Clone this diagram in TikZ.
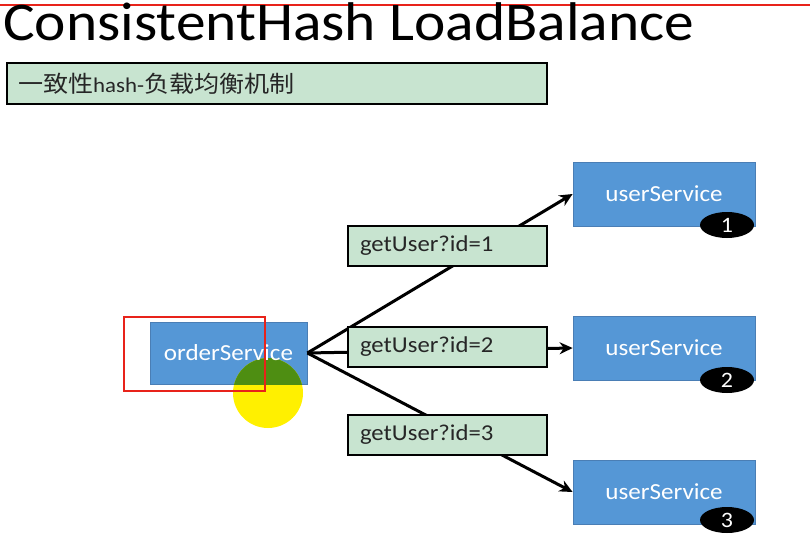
\documentclass[tikz,border=0pt]{standalone}
\usepackage{fontspec}
\setmainfont[FakeStretch=1.09]{Carlito}
\newfontfamily\cjk[FakeStretch=1.09]{Noto Sans CJK SC}
\usetikzlibrary{shapes.geometric,arrows.meta}
\definecolor{boxblue}{HTML}{5597D6}
\definecolor{boxblueedge}{HTML}{4A7EB5}
\definecolor{lblgreen}{HTML}{C8E4D0}
\definecolor{hiyellow}{HTML}{FFF000}
\definecolor{higreen}{HTML}{4E8E12}
\definecolor{markred}{HTML}{E8231A}
\tikzset{
  svc/.style={draw=boxblueedge, line width=0.8pt, fill=boxblue, text=white,
    minimum width=182pt, minimum height=64pt, inner sep=0pt,
    font=\fontsize{23}{26}\selectfont},
  lbl/.style={draw=black, line width=2.2pt, fill=lblgreen, text=black!85,
    text width=175pt, align=left, inner xsep=12pt, inner ysep=0pt,
    minimum height=40pt, font=\fontsize{22.7}{25}\selectfont},
  badge/.style={ellipse, fill=black, text=white, minimum width=54pt,
    minimum height=26pt, inner sep=0pt, font=\fontsize{22}{24}\selectfont},
  conn/.style={line width=3pt, -{Stealth[length=13pt,width=12pt]}},
}
\begin{document}
\begin{tikzpicture}[x=1pt,y=-1pt]
\useasboundingbox[fill=white] (0,0) rectangle (810,556);
% top red line
\coordinate (tl) at (0,5);
\coordinate (tr) at (810,5);
\draw[markred, line width=1.6pt] (tl) -- (tr);
% title
\node[anchor=base west, inner sep=0pt, font=\fontsize{54.5}{58}\selectfont] (title) at (3,41) {ConsistentHash LoadBalance};
% subtitle
\node[draw=black, line width=2.2pt, fill=lblgreen, minimum width=540pt, minimum height=41pt,
  text width=518pt, inner xsep=10pt, inner ysep=0pt, align=left,
  font=\fontsize{21}{23}\selectfont, text=black!85] (sub) at (277,83.5)
  {{\cjk\fontsize{23}{25}\selectfont 一致性}hash-{\cjk\fontsize{23}{25}\selectfont 负载均衡机制}};
% order service
\node[svc, minimum width=157pt, minimum height=62pt] (order) at (228.5,353) {};
% user services
\node[svc] (u1) at (664,194) {userService};
\node[svc] (u2) at (664,348) {userService};
\node[svc] (u3) at (664,492) {userService};
\node[badge] (b1) at (727,225) {1};
\node[badge] (b2) at (727,380) {2};
\node[badge] (b3) at (727,520) {3};
% connectors
\draw[conn] (order.east) -- (u1.west);
\draw[conn] (order.east) -- (u2.west);
\draw[conn] (order.east) -- (u3.west);
% labels
\node[lbl] (l1) at (447.5,246) {getUser?id=1};
\node[lbl] (l2) at (447.5,347) {getUser?id=2};
\node[lbl] (l3) at (447.5,435) {getUser?id=3};
% cursor highlight
\fill[hiyellow] (268,393) circle (35);
\begin{scope}
  \clip (order.south west) rectangle (order.north east);
  \fill[higreen] (268,393) circle (35);
\end{scope}
\node[inner sep=0pt, text=white, font=\fontsize{23}{26}\selectfont] (ordertxt) at (order.center) {orderService};
\draw[markred, line width=2pt] (124,317) rectangle (265,391);
\end{tikzpicture}
\end{document}
